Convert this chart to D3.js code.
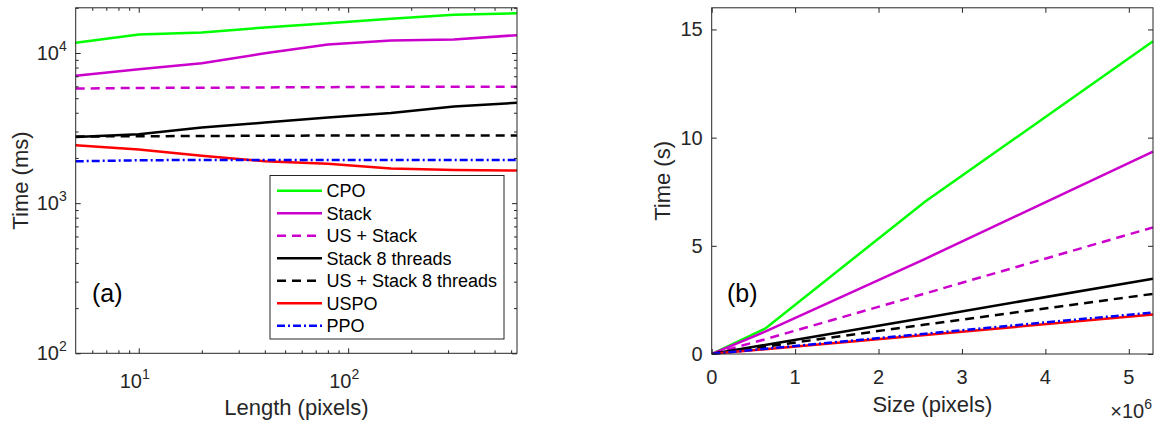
<!DOCTYPE html>
<html>
<head>
<meta charset="utf-8">
<script src="https://cdn.jsdelivr.net/npm/d3@7"></script>
<style>
  body { margin: 0; background: #fff; }
  svg { font-family: "Liberation Sans", Arial, Helvetica, sans-serif; }
</style>
</head>
<body>
<svg id="chart" width="1158" height="426"></svg>
<script>
// series names, shared by both panels
var names = ["CPO", "Stack", "US + Stack", "Stack 8 threads", "US + Stack 8 threads", "USPO", "PPO"];

// panel (a): time (ms) vs length (pixels), log-log
var lengths = [5, 10, 20, 40, 80, 160, 320, 640];
var cpoA = [11700, 13300, 13700, 14800, 15800, 16900, 18000, 18400];
var stackA = [7050, 7800, 8550, 9950, 11400, 12100, 12300, 13150];
var usStackA = [5800, 5850, 5870, 5900, 5920, 5950, 5950, 5960];
var stack8A = [2760, 2880, 3190, 3440, 3720, 3980, 4400, 4660];
var usStack8A = [2780, 2790, 2800, 2810, 2820, 2820, 2825, 2825];
var uspoA = [2430, 2280, 2070, 1900, 1830, 1700, 1660, 1650];
var ppoA = [1900, 1930, 1940, 1940, 1940, 1940, 1940, 1940];

// panel (b): time (s) vs size (pixels)
var sizes = [10000, 640000, 2560000, 5290000];
var cpoB = [0.02, 1.17, 7.05, 14.45];
var stackB = [0.02, 1.03, 4.4, 9.35];
var usStackB = [0.01, 0.68, 2.8, 5.85];
var stack8B = [0.01, 0.42, 1.68, 3.48];
var usStack8B = [0.01, 0.34, 1.36, 2.78];
var uspoB = [0.01, 0.22, 0.88, 1.82];
var ppoB = [0.01, 0.24, 0.94, 1.92];

var xTicksB = [0, 1, 2, 3, 4, 5];
var yTicksB = [0, 5, 10, 15];

// line styles
var colors = ["#00ff00", "#cc00cc", "#cc00cc", "#000000", "#000000", "#ff0000", "#0000ff"];
var dashes = [null, null, "9,6", null, "9,6", null, "8,3,2,3"];

var svg = d3.select("#chart");
var axisColor = "#262626";
var tickFont = 20;
var labelFont = 22;
var lineW = 2.5;

// plot areas
var pa = {left: 75.7, right: 517, top: 7.8, bottom: 353.3};
var pb = {left: 711.7, right: 1153, top: 7.8, bottom: 354};

function drawLines(g, xs, seriesList, x, y) {
    var line = d3.line()
        .x(function(d, i) {return x(xs[i]);})
        .y(function(d) {return y(d);});
    seriesList.forEach(function(s, k) {
        g.append("path")
          .datum(s)
          .attr("d", line)
          .attr("fill", "none")
          .attr("stroke", colors[k])
          .attr("stroke-width", lineW)
          .attr("stroke-dasharray", dashes[k]);
    });
}

function drawBox(p) {
    svg.append("rect")
      .attr("x", p.left).attr("y", p.top)
      .attr("width", p.right - p.left).attr("height", p.bottom - p.top)
      .attr("fill", "none")
      .attr("stroke", axisColor)
      .attr("stroke-width", 1);
}

// add inward ticks on all four sides using d3 axes
function addTicks(x, y, p, xt, yt, size) {
    var gb = svg.append("g").attr("transform", "translate(0," + p.bottom + ")")
      .call(d3.axisBottom(x).tickValues(xt).tickSizeInner(-size).tickSizeOuter(0).tickFormat(""));
    var gt = svg.append("g").attr("transform", "translate(0," + p.top + ")")
      .call(d3.axisTop(x).tickValues(xt).tickSizeInner(-size).tickSizeOuter(0).tickFormat(""));
    var gl = svg.append("g").attr("transform", "translate(" + p.left + ",0)")
      .call(d3.axisLeft(y).tickValues(yt).tickSizeInner(-size).tickSizeOuter(0).tickFormat(""));
    var gr = svg.append("g").attr("transform", "translate(" + p.right + ",0)")
      .call(d3.axisRight(y).tickValues(yt).tickSizeInner(-size).tickSizeOuter(0).tickFormat(""));
    [gb, gt, gl, gr].forEach(function(g) {
        g.select(".domain").remove();
        g.selectAll(".tick line").attr("stroke", axisColor);
    });
}

// ---------- panel (a) ----------
var xA = d3.scaleLog().domain([5, 640]).range([pa.left, pa.right]);
var yA = d3.scaleLog().domain([100, 20000]).range([pa.bottom, pa.top]);

var gA = svg.append("g");
drawLines(gA, lengths, [cpoA, stackA, usStackA, stack8A, usStack8A, uspoA, ppoA], xA, yA);

var majorXA = [10, 100];
var minorXA = [6, 7, 8, 9, 20, 30, 40, 50, 60, 70, 80, 90, 200, 300, 400, 500, 600];
var majorYA = [100, 1000, 10000];
var minorYA = [200, 300, 400, 500, 600, 700, 800, 900, 2000, 3000, 4000, 5000, 6000, 7000, 8000, 9000, 20000];
addTicks(xA, yA, pa, majorXA, majorYA, 5);
addTicks(xA, yA, pa, minorXA, minorYA, 3);
drawBox(pa);

function powLabel(sel, exp) {
    sel.append("tspan").text("10");
    sel.append("tspan").attr("dy", -9).attr("font-size", 14).text(exp);
}

majorXA.forEach(function(v) {
    var t = svg.append("text")
      .attr("x", xA(v) - 4).attr("y", 388)
      .attr("text-anchor", "middle")
      .attr("font-size", tickFont).attr("fill", axisColor);
    powLabel(t, Math.round(Math.log10(v)));
});
majorYA.forEach(function(v) {
    var t = svg.append("text")
      .attr("x", pa.left - 9).attr("y", yA(v) + 7)
      .attr("text-anchor", "end")
      .attr("font-size", tickFont).attr("fill", axisColor);
    powLabel(t, Math.round(Math.log10(v)));
});

svg.append("text")
  .attr("x", (pa.left + pa.right) / 2).attr("y", 415)
  .attr("text-anchor", "middle")
  .attr("font-size", labelFont).attr("fill", axisColor)
  .text("Length (pixels)");
svg.append("text")
  .attr("transform", "translate(28," + ((pa.top + pa.bottom) / 2) + ") rotate(-90)")
  .attr("text-anchor", "middle")
  .attr("font-size", labelFont).attr("fill", axisColor)
  .text("Time (ms)");
svg.append("text")
  .attr("x", 92).attr("y", 302)
  .attr("font-size", 25).attr("fill", "#000")
  .text("(a)");

// legend
var leg = {left: 270, top: 175.5, right: 504, bottom: 339};
svg.append("rect")
  .attr("x", leg.left).attr("y", leg.top)
  .attr("width", leg.right - leg.left).attr("height", leg.bottom - leg.top)
  .attr("fill", "#fff")
  .attr("stroke", axisColor).attr("stroke-width", 1);
names.forEach(function(n, k) {
    var cy = 190.7 + k * 22.5;
    svg.append("line")
      .attr("x1", 277).attr("x2", 322).attr("y1", cy).attr("y2", cy)
      .attr("stroke", colors[k]).attr("stroke-width", lineW)
      .attr("stroke-dasharray", dashes[k]);
    svg.append("text")
      .attr("x", 326.5).attr("y", cy + 6.5)
      .attr("font-size", 18).attr("fill", "#000")
      .text(n);
});

// ---------- panel (b) ----------
var xB = d3.scaleLinear().domain([0, 5.29e6]).range([pb.left, pb.right]);
var yB = d3.scaleLinear().domain([0, 16]).range([pb.bottom, pb.top]);

var gB = svg.append("g");
drawLines(gB, sizes, [cpoB, stackB, usStackB, stack8B, usStack8B, uspoB, ppoB], xB, yB);

addTicks(xB, yB, pb, xTicksB.map(function(d) {return d * 1e6;}), yTicksB, 5);
drawBox(pb);

xTicksB.forEach(function(v) {
    svg.append("text")
      .attr("x", xB(v * 1e6)).attr("y", 384)
      .attr("text-anchor", "middle")
      .attr("font-size", tickFont).attr("fill", axisColor)
      .text(v);
});
yTicksB.forEach(function(v) {
    svg.append("text")
      .attr("x", pb.left - 9).attr("y", yB(v) + 7)
      .attr("text-anchor", "end")
      .attr("font-size", tickFont).attr("fill", axisColor)
      .text(v);
});

var mult = svg.append("text")
  .attr("x", 1152).attr("y", 418)
  .attr("text-anchor", "end")
  .attr("font-size", tickFont).attr("fill", axisColor);
mult.append("tspan").text("\u00d710");
mult.append("tspan").attr("dy", -9).attr("font-size", 14).text("6");

svg.append("text")
  .attr("x", (pb.left + pb.right) / 2).attr("y", 412)
  .attr("text-anchor", "middle")
  .attr("font-size", labelFont).attr("fill", axisColor)
  .text("Size (pixels)");
svg.append("text")
  .attr("transform", "translate(670," + ((pb.top + pb.bottom) / 2) + ") rotate(-90)")
  .attr("text-anchor", "middle")
  .attr("font-size", labelFont).attr("fill", axisColor)
  .text("Time (s)");
svg.append("text")
  .attr("x", 727).attr("y", 302)
  .attr("font-size", 25).attr("fill", "#000")
  .text("(b)");
</script>
</body>
</html>
